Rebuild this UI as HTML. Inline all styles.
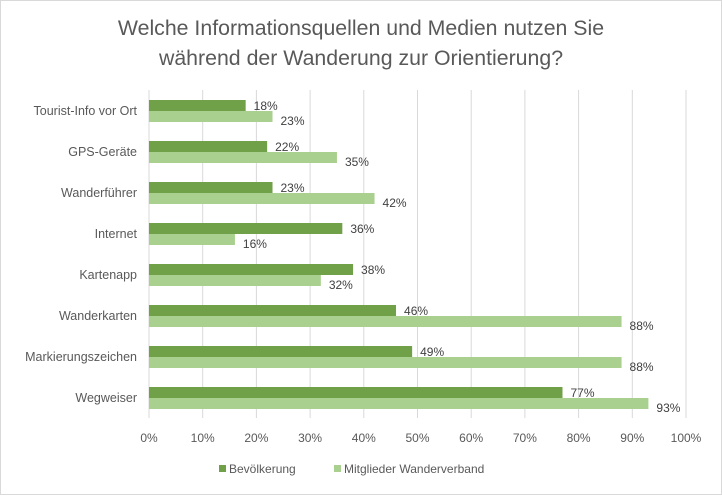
<!DOCTYPE html>
<html><head><meta charset="utf-8"><style>
body{margin:0;background:#fff;font-family:"Liberation Sans",sans-serif}
svg text{font-family:"Liberation Sans",sans-serif}
</style></head><body>
<svg id="c" width="722" height="495" xmlns="http://www.w3.org/2000/svg">
<rect x="0.5" y="0.5" width="721" height="494" fill="#fff" stroke="#d9d9d9"/>
<text x="361" y="35" text-anchor="middle" font-size="21.3" fill="#595959">Welche Informationsquellen und Medien nutzen Sie</text>
<text x="361" y="65" text-anchor="middle" font-size="21.3" fill="#595959">während der Wanderung zur Orientierung?</text>
<g id="grid"></g><g id="bars"></g><g id="labels"></g>
<g>
<rect x="219" y="465" width="7" height="7" fill="#70a048"/>
<text x="229" y="473" font-size="12" fill="#595959">Bevölkerung</text>
<rect x="334" y="465" width="7" height="7" fill="#a9d08e"/>
<text x="344" y="473" font-size="12" fill="#595959">Mitglieder Wanderverband</text>
</g>
</svg>
<script>
const categories=["Tourist-Info vor Ort","GPS-Geräte","Wanderführer","Internet","Kartenapp","Wanderkarten","Markierungszeichen","Wegweiser"];
const bevoelkerung=[18,22,23,36,38,46,49,77];
const mitglieder=[23,35,42,16,32,88,88,93];
const ticks=[0,10,20,30,40,50,60,70,80,90,100];
const NS="http://www.w3.org/2000/svg";
const x0=149,x1=686,yTop=90,yBot=418,rowTop=111,rowStep=41,bh=11;
const xs=v=>x0+(x1-x0)*v/100;
const rowC=i=>rowTop+i*rowStep;
function mk(t,a,p){const e=document.createElementNS(NS,t);for(const k in a)e.setAttribute(k,a[k]);p.appendChild(e);return e;}
const g=document.getElementById('grid'),b=document.getElementById('bars'),l=document.getElementById('labels');
ticks.forEach(t=>{
 const ln=mk('line',{x1:xs(t),x2:xs(t),y1:yTop,y2:yBot,stroke:'#d9d9d9','stroke-width':1},g);
 
 
 const tx=mk('text',{x:xs(t),y:442,'text-anchor':'middle','font-size':12,fill:'#595959'},g);
 tx.textContent=t+'%';
 
 
});
categories.forEach((c,i)=>{
 const cy=rowC(i);
 const cl=mk('text',{x:137,y:cy+4,'text-anchor':'end','font-size':12.5,fill:'#595959'},l);
 cl.textContent=c;
 
 
 const r1=mk('rect',{x:x0,y:cy-bh,width:xs(bevoelkerung[i])-x0,height:bh,fill:'#70a048'},b);
 
 
 const r2=mk('rect',{x:x0,y:cy,width:xs(mitglieder[i])-x0,height:bh,fill:'#a9d08e'},b);
 
 
 const t1=mk('text',{x:xs(bevoelkerung[i])+8,y:cy-1,'font-size':12,fill:'#404040'},l);
 t1.textContent=bevoelkerung[i]+'%';
 
 
 const t2=mk('text',{x:xs(mitglieder[i])+8,y:cy+14,'font-size':12,fill:'#404040'},l);
 t2.textContent=mitglieder[i]+'%';
 
 
});
</script>
</body></html>
